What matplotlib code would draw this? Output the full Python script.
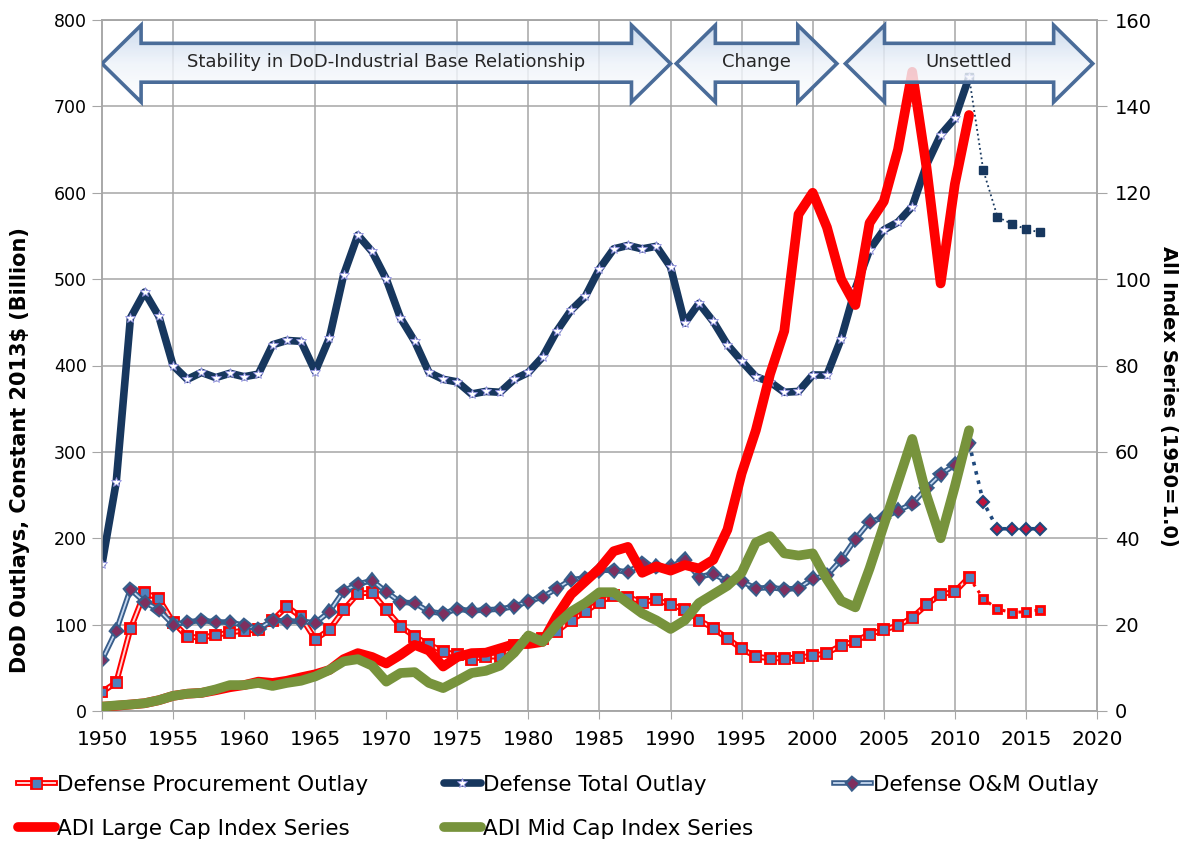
import matplotlib
matplotlib.use("Agg")
import matplotlib.pyplot as plt
import matplotlib.patheffects as pe
from matplotlib.patches import Polygon
from matplotlib.colors import LinearSegmentedColormap
import numpy as np

plt.rcParams['font.family'] = ['DejaVu Sans']

# ---------------- data ----------------
years = list(range(1950, 2012))
proj_years = list(range(2011, 2017))

total_outlay = [170, 265, 455, 485, 457, 400, 384, 392, 386, 391,
                387, 390, 424, 429, 428, 393, 432, 505, 551, 532,
                500, 455, 428, 392, 384, 381, 367, 370, 369, 384,
                392, 410, 440, 464, 480, 512, 535, 539, 535, 538,
                514, 449, 472, 451, 424, 405, 387, 381, 369, 370,
                389, 389, 431, 489, 534, 557, 566, 584, 632, 667,
                686, 734]
total_proj = [734, 626, 572, 564, 558, 554]

procurement = [22, 33, 95, 137, 130, 103, 86, 85, 88, 91,
               93, 94, 105, 121, 109, 83, 94, 117, 136, 137,
               117, 98, 86, 77, 69, 65, 60, 63, 63, 76,
               80, 84, 92, 105, 115, 126, 134, 132, 126, 129,
               123, 118, 105, 96, 84, 72, 63, 61, 61, 62,
               64, 67, 76, 81, 89, 94, 99, 108, 123, 135,
               138, 155]
procurement_proj = [155, 130, 118, 114, 115, 117]

om_outlay = [59, 93, 141, 126, 117, 100, 103, 105, 103, 103,
             99, 95, 105, 104, 104, 102, 115, 139, 147, 151,
             138, 126, 125, 115, 113, 118, 116, 117, 118, 121,
             127, 132, 142, 152, 154, 163, 163, 161, 171, 167,
             167, 175, 155, 159, 150, 150, 142, 143, 141, 142,
             153, 157, 175, 199, 219, 224, 232, 240, 258, 274,
             285, 310]
om_proj = [310, 242, 211, 211, 211, 211]

large_cap = [1.0, 1.2, 1.5, 1.8, 2.5, 3.5, 4.0, 4.2, 4.8, 5.5,
             6.0, 6.8, 6.5, 7.0, 7.8, 8.5, 9.5, 12.0, 13.4, 12.5,
             11.0, 13.0, 15.3, 14.0, 10.3, 12.5, 13.4, 13.5, 14.5, 15.5,
             15.5, 16.0, 22.0, 27.0, 30.0, 33.0, 37.0, 38.0, 32.0, 33.5,
             32.5, 33.8, 33.0, 35.0, 42.0, 55.0, 65.0, 78.0, 88.0, 115.0,
             120.0, 112.0, 100.0, 94.0, 113.0, 118.0, 130.0, 148.0, 126.0, 99.0,
             122.0, 138.0]

mid_cap = [1.0, 1.3, 1.5, 1.8, 2.5, 3.5, 4.0, 4.2, 5.0, 6.0,
           6.0, 6.5, 5.8, 6.5, 7.0, 8.0, 9.5, 11.5, 12.0, 10.5,
           6.8, 8.8, 9.0, 6.5, 5.3, 7.0, 8.8, 9.3, 10.5, 13.5,
           17.5, 16.0, 20.0, 23.0, 25.0, 27.5, 27.5, 25.0, 22.6, 21.0,
           19.0, 21.0, 25.0, 27.0, 29.0, 32.0, 39.0, 40.5, 36.5, 36.0,
           36.5, 30.5, 25.5, 24.0, 33.0, 43.0, 53.0, 63.0, 50.0, 40.0,
           52.0, 65.0]

xtick_years = list(range(1950, 2021, 5))
grid_years = [1955, 1965, 1975, 1980, 1985, 1990, 1995, 2000, 2005, 2010, 2015]

eras = ["Stability in DoD-Industrial Base Relationship", "Change", "Unsettled"]
era_spans = [(1950.0, 1990.0), (1990.4, 2001.7), (2002.3, 2019.7)]

# ---------------- figure ----------------
W, H = 1194, 841
fig = plt.figure(figsize=(W / 100, H / 100), dpi=100)
L, R, T, B = 102, 1097, 20, 711
ax = fig.add_axes([L / W, 1 - B / H, (R - L) / W, (B - T) / H])
ax2 = ax.twinx()

grid_c = '#A6A6A6'
ax.set_xlim(1950, 2020)
ax.set_ylim(0, 800)
ax2.set_ylim(0, 160)
ax.set_xticks(xtick_years)
ax.set_yticks(range(0, 801, 100))
ax2.set_yticks(range(0, 161, 20))
ax.yaxis.grid(True, color=grid_c, lw=1.1)
ax.set_axisbelow(True)
for gy in grid_years:
    ax.axvline(gy, color=grid_c, lw=1.1, zorder=0.5)
for a in (ax, ax2):
    for s in a.spines.values():
        s.set_color(grid_c)
        s.set_linewidth(1.1)
ax.tick_params(axis='x', length=6, color=grid_c, labelsize=14.5, pad=8)
ax.tick_params(axis='y', length=7, color=grid_c, labelsize=12.5, pad=4)
ax2.tick_params(axis='y', length=7, color=grid_c, labelsize=14, pad=6)

ax.set_ylabel("DoD Outlays, Constant 2013$ (Billion)", fontsize=15, fontweight='bold')
ax.yaxis.set_label_coords(-0.072, 0.378)
ax2.set_ylabel("All Index Series (1950=1.0)", fontsize=14, fontweight='bold', rotation=-90, va='bottom')
ax2.yaxis.set_label_coords(1.062, 0.455)

# ---------------- primary series ----------------
navy = '#17375E'
# projections (dotted)
ax.plot(proj_years, total_proj, ls=':', lw=1.3, color=navy, marker='s', ms=6,
        mfc=navy, mec=navy, zorder=3)
ax.plot(proj_years, procurement_proj, ls=':', lw=2.2, color='#FF0000', marker='s', ms=6,
        mfc='#4F81BD', mec='#FF0000', mew=2, zorder=3, markevery=list(range(1, 6)))
ax.plot(proj_years, om_proj, ls=':', lw=2.6, color='#1F497D', marker='D', ms=6,
        mfc='#C0143C', mec='#1F497D', mew=1.5, zorder=3, markevery=list(range(1, 6)))

h_proc, = ax.plot(years, procurement, color='#FFD5D5', lw=1.4, marker='s', ms=5,
                  mfc='#4F81BD', mec='#4F81BD', zorder=4,
                  label='Defense Procurement Outlay',
                  path_effects=[pe.Stroke(linewidth=4.2, foreground='#FF0000'), pe.Normal()])
h_om, = ax.plot(years, om_outlay, color='#C6D9F1', lw=1.3, marker='D', ms=4.5,
                mfc='#7F2F5F', mec='#7F2F5F', zorder=4,
                label='Defense O&M Outlay',
                path_effects=[pe.Stroke(linewidth=4.0, foreground='#385D8A'), pe.Normal()])
h_tot, = ax.plot(years, total_outlay, color=navy, lw=5.5, solid_joinstyle='round',
                 solid_capstyle='round', marker='*', ms=7, mfc='white', mec='#9090E0',
                 mew=0.6, zorder=5, label='Defense Total Outlay')

# ---------------- index series ----------------
h_large, = ax2.plot(years, large_cap, color='#FF0000', lw=7, solid_joinstyle='round',
                    solid_capstyle='round', zorder=4, label='ADI Large Cap Index Series')
h_mid, = ax2.plot(years, mid_cap, color='#77933C', lw=7, solid_joinstyle='round',
                  solid_capstyle='round', zorder=5, label='ADI Mid Cap Index Series')
ax2.set_ylim(0, 160)

# ---------------- era arrows ----------------
cmap = LinearSegmentedColormap.from_list('arr', ['#C3D4EA', '#EEF3FA', '#FFFFFF'])
grad = np.linspace(0, 1, 64).reshape(-1, 1)
y_top, y_bot, s_top, s_bot, y_mid = 158.8, 141.0, 154.6, 145.6, 149.9
hw = 2.75
for txt, (x0, x1) in zip(eras, era_spans):
    verts = [(x0, y_mid), (x0 + hw, y_top), (x0 + hw, s_top), (x1 - hw, s_top),
             (x1 - hw, y_top), (x1, y_mid), (x1 - hw, y_bot), (x1 - hw, s_bot),
             (x0 + hw, s_bot), (x0 + hw, y_bot)]
    poly = Polygon(verts, closed=True, fc='none', ec='#4A6C99', lw=2.6,
                   joinstyle='miter', zorder=12)
    ax2.add_patch(poly)
    im = ax2.imshow(grad, extent=[x0, x1, y_bot, y_top], origin='upper', aspect='auto',
                    cmap=cmap, alpha=0.82, zorder=11, interpolation='bilinear')
    im.set_clip_path(poly)
    ax2.text((x0 + x1) / 2, y_mid + 0.3, txt, ha='center', va='center', fontsize=13,
             color='#262626', zorder=13)
ax2.set_xlim(1950, 2020)
ax2.set_ylim(0, 160)

# ---------------- legend ----------------
leg_kw = dict(frameon=False, fontsize=15.5, handlelength=1.7, handletextpad=0.1,
              labelspacing=1.1, borderaxespad=0, borderpad=0, loc='upper left')
fig.legend(handles=[h_proc, h_large], bbox_to_anchor=(18 / W, 1 - 775 / H), **leg_kw)
fig.legend(handles=[h_tot, h_mid], bbox_to_anchor=(444 / W, 1 - 775 / H), **leg_kw)
fig.legend(handles=[h_om], bbox_to_anchor=(834 / W, 1 - 775 / H), **leg_kw)

fig.savefig('out.png', dpi=100)
